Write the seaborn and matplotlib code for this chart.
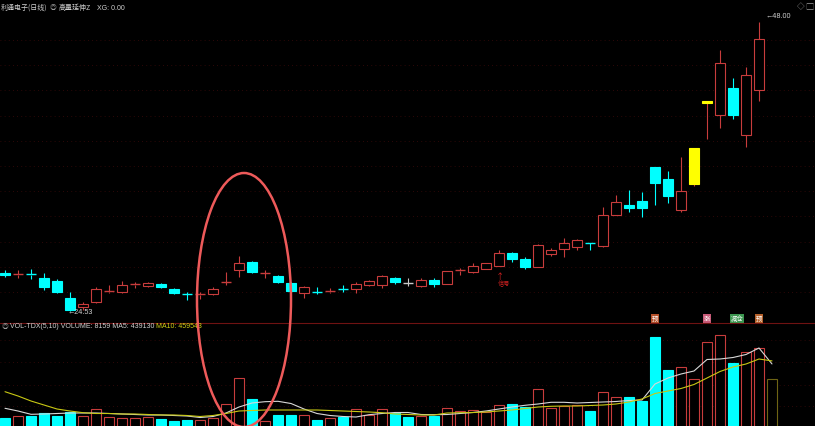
import numpy as np
import pandas as pd
import matplotlib
matplotlib.use("Agg")
import matplotlib.pyplot as plt
import seaborn as sns
from matplotlib.patches import Ellipse
from matplotlib.lines import Line2D

# 📌 日线数据 (从截图读取)
opens = [27.62, 27.49, 27.53, 27.21, 26.97, 25.59, 24.86, 25.26, 26.11, 26.07,
         26.68, 26.56, 26.72, 26.32, 25.95, 25.87, 25.91, 26.85, 27.86, 28.51,
         27.58, 27.37, 26.80, 25.99, 26.11, 26.11, 26.36, 26.32, 26.64, 26.64,
         27.21, 26.80, 26.56, 27.05, 26.72, 27.82, 27.70, 27.94, 28.19, 29.24,
         28.75, 28.10, 29.16, 29.57, 29.73, 30.13, 29.81, 32.33, 33.14, 33.46,
         36.23, 35.25, 32.73, 34.84, 41.42, 40.45, 42.64, 38.82, 42.48]
closes = [27.45, 27.53, 27.49, 26.48, 26.07, 24.61, 25.10, 26.32, 26.15, 26.64,
          26.72, 26.80, 26.48, 26.00, 25.91, 25.91, 26.32, 26.89, 28.43, 27.70,
          27.62, 26.89, 26.15, 26.48, 26.07, 26.15, 26.32, 26.72, 26.97, 27.37,
          26.89, 26.80, 27.05, 26.72, 27.78, 27.86, 28.19, 28.43, 29.24, 28.75,
          28.10, 29.89, 29.49, 30.05, 30.30, 30.05, 32.33, 33.38, 32.89, 32.89,
          34.93, 33.87, 34.28, 37.77, 41.58, 44.67, 40.45, 43.70, 46.62]
highs = [27.86, 27.86, 27.94, 27.62, 27.13, 26.07, 25.26, 26.48, 26.64, 26.97,
         26.89, 26.89, 26.80, 26.40, 26.07, 26.07, 26.48, 27.70, 29.00, 28.59,
         27.86, 27.45, 26.89, 26.56, 26.48, 26.40, 26.64, 26.89, 27.05, 27.45,
         27.29, 27.21, 27.21, 27.21, 27.78, 28.02, 28.43, 28.43, 29.49, 29.32,
         28.92, 29.97, 29.65, 30.46, 30.38, 30.13, 32.98, 33.95, 34.36, 34.20,
         36.23, 35.90, 37.04, 37.77, 41.58, 45.73, 43.45, 44.35, 48.00]
lows = [27.29, 27.21, 27.13, 26.24, 26.00, 24.53, 24.61, 25.18, 25.99, 25.99,
        26.40, 26.48, 26.40, 25.91, 25.42, 25.50, 25.83, 26.64, 27.29, 27.62,
        27.21, 26.80, 26.07, 25.59, 25.91, 25.99, 26.07, 25.99, 26.56, 26.40,
        26.72, 26.56, 26.48, 26.48, 26.72, 27.45, 27.62, 27.94, 28.19, 28.51,
        27.94, 28.10, 29.00, 28.92, 29.49, 29.49, 29.73, 32.33, 32.57, 32.16,
        33.14, 33.30, 32.57, 34.68, 38.50, 39.39, 40.12, 37.85, 41.58]
limit_up_days = [53, 54]

# 📌 成交量 (最后一根为预估量)
volumes = [76000, 88000, 90000, 110000, 90000, 117000, 90000, 133000, 83000, 76000,
           72000, 83000, 65000, 56000, 61000, 61000, 74000, 167000, 342000, 200000,
           54000, 97000, 92000, 92000, 63000, 74000, 81000, 137000, 92000, 135000,
           108000, 81000, 86000, 86000, 142000, 119000, 128000, 113000, 160000, 171000,
           146000, 272000, 144000, 155000, 162000, 124000, 252000, 214000, 218000, 189000,
           619000, 398000, 421000, 335000, 585000, 635000, 448000, 518000, 549000, 338000]
ma5 = [139725, 121500, 99225, 101250, 104625, 108000, 108000, 108000, 104625, 101250,
       97875, 94500, 94500, 91125, 87750, 77625, 84375, 108000, 148500, 175500,
       184275, 186975, 172125, 135000, 104625, 91125, 84375, 81000, 96525, 104625,
       111375, 111375, 97875, 96525, 97875, 104625, 111375, 121500, 135000, 148500,
       159975, 168750, 180225, 180225, 175500, 178875, 182250, 185625, 192375, 195750,
       303750, 344250, 371250, 391500, 469125, 472500, 482625, 502875, 546750, 439130]
ma10 = [251775, 222750, 189000, 162000, 135000, 121500, 110025, 104625, 104625, 101250,
        101250, 97875, 94500, 94500, 91125, 84375, 91125, 104625, 121500, 124875,
        128250, 128250, 128250, 128250, 128250, 124875, 121500, 118125, 114750, 110025,
        101250, 97875, 94500, 94500, 108000, 110025, 111375, 114750, 121500, 128250,
        138375, 148500, 153225, 155250, 155250, 158625, 162000, 168750, 182250, 202500,
        239625, 256500, 273375, 300375, 344250, 388125, 418500, 438750, 472500, 459543]

# 📌 顶部信号标签 (位置: K线序号)
tag_days = [50, 54, 56.3, 58]
tag_texts = ["预", "涨", "减仓", "预"]
tag_colors = ["#b4502a", "#c85a78", "#3c9650", "#b4602a"]

RED = "#c83c3c"
CYAN = "#00ffff"
YELLOW = "#ffff00"
GRID = "#3c0a0a"
LAT = ["Liberation Sans", "DejaVu Sans"]

sns.set_theme(style="dark", rc={"axes.facecolor": "black", "figure.facecolor": "black"})
plt.rcParams["font.family"] = ["Noto Sans CJK SC", "DejaVu Sans"]

W, H = 815, 426
fig = plt.figure(figsize=(W / 100, H / 100), dpi=100, facecolor="black")
split = 323
ax_p = fig.add_axes([0, 1 - split / H, 1, split / H])
ax_v = fig.add_axes([0, 0, 1, (H - split) / H])

df = pd.DataFrame({"open": opens, "high": highs, "low": lows, "close": closes})
df["x"] = np.arange(len(df))
bw = 0.77

# 📌 K线
for i, r in df.iterrows():
    o, c, h, l, x = r["open"], r["close"], r["high"], r["low"], r["x"]
    top, bot = max(o, c), min(o, c)
    if i in limit_up_days:
        col, fill, wick_col = YELLOW, YELLOW, RED
    elif c > o:
        col, fill, wick_col = RED, "black", RED
    elif c < o:
        col, fill, wick_col = CYAN, CYAN, CYAN
    else:
        col, fill, wick_col = "#c8c8c8", "#c8c8c8", "#c8c8c8"
    ax_p.vlines(x, top, h, color=wick_col, lw=0.8, zorder=2)
    ax_p.vlines(x, l, bot, color=wick_col, lw=0.8, zorder=2)
    if top - bot < 0.1:
        ax_p.hlines((top + bot) / 2, x - bw / 2, x + bw / 2, color=col, lw=1.0, zorder=3)
    else:
        ax_p.bar(x, top - bot, bottom=bot, width=bw, facecolor=fill,
                 edgecolor=col, linewidth=0.8, zorder=3)

ax_p.set_xlim(-5 / 13, 810 / 13)
ax_p.set_ylim(23.56, 49.787)

# 📌 成交量
vx = np.arange(len(volumes))
for i, v in enumerate(volumes):
    if i >= len(closes):
        ax_v.bar(i, v, width=bw, facecolor="black", edgecolor="#6e6414", linewidth=0.8)
    elif closes[i] > opens[i]:
        ax_v.bar(i, v, width=bw, facecolor="black", edgecolor=RED, linewidth=0.8)
    else:
        ax_v.bar(i, v, width=bw, facecolor=CYAN, edgecolor=CYAN, linewidth=0.8)

sns.lineplot(x=vx, y=ma5, ax=ax_v, color="#d8d8d8", lw=0.8, zorder=4)
sns.lineplot(x=vx, y=ma10, ax=ax_v, color="#c8c814", lw=0.8, zorder=4)
ax_v.set_xlim(-5 / 13, 810 / 13)
ax_v.set_ylim(20250, 715500)

# 📌 虚线网格
def px2price(y):
    return 49.787 - 0.08121 * y

for gy in np.arange(40, 295, 25.2):
    ax_p.axhline(px2price(gy), color=GRID, lw=0.6, ls=(0, (1, 4)), zorder=0)
for gy in [340, 362, 385, 406]:
    ax_v.axhline((429 - gy) * 6750, color=GRID, lw=0.6, ls=(0, (1, 4)), zorder=0)

for ax in (ax_p, ax_v):
    ax.set_facecolor("black")
    ax.set_xticks([])
    ax.set_yticks([])
    ax.set_xlabel("")
    ax.set_ylabel("")
    ax.grid(False)
    for s in ax.spines.values():
        s.set_visible(False)

def fx(x):
    return x / W

def fy(y):
    return 1 - y / H

fig.add_artist(Line2D([0, 1], [fy(split), fy(split)], color="#6e1212", lw=0.8))

# 📌 标题文字
fig.text(fx(1), fy(8), "利通电子(日线)", color="#d0d0d0", fontsize=5, va="center")
fig.text(fx(50), fy(8), "◎", color="#9a9a9a", fontsize=4.8, va="center")
fig.text(fx(59), fy(8), "高量延伸Z", color="#d0d0d0", fontsize=5, va="center")
fig.text(fx(97), fy(8), "XG: 0.00", color="#d0d0d0", fontsize=5, va="center", family=LAT)

fig.text(fx(2), fy(327), "◎", color="#9a9a9a", fontsize=4.8, va="center")
fig.text(fx(10), fy(327), "VOL-TDX(5,10) VOLUME: 8159 MA5: 439130", color="#d0d0d0",
         fontsize=5, va="center", family=LAT)
fig.text(fx(156), fy(327), "MA10: 459543", color="#d2d214", fontsize=5, va="center", family=LAT)

# 📌 标注
fig.text(fx(68), fy(312), "←24.53", color="#d0d0d0", fontsize=5.2, va="center", family=LAT)
fig.text(fx(766), fy(16), "←48.00", color="#d0d0d0", fontsize=5.2, va="center", family=LAT)
fig.text(fx(797), fy(7), "◇ ▢", color="#9a9a9a", fontsize=5.5, va="center")
fig.text(fx(500), fy(276), "↑", color="#d02020", fontsize=6, va="center", ha="center")
fig.text(fx(498), fy(284), "信号", color="#d02020", fontsize=4.5, va="center")

for d, t, c in zip(tag_days, tag_texts, tag_colors):
    ax_v.text(d, 1.04, t, transform=ax_v.get_xaxis_transform(), color="white", fontsize=4.6,
              ha="center", va="center", clip_on=False,
              bbox=dict(boxstyle="square,pad=0.12", facecolor=c, edgecolor="none"))

# 📌 红色椭圆圈
ell = Ellipse((fx(244), fy(300)), width=94 / W, height=254 / H, transform=fig.transFigure,
              fill=False, edgecolor="#ee5a5a", lw=1.8, zorder=10)
fig.add_artist(ell)

fig.savefig("out.png", dpi=100, facecolor="black")
